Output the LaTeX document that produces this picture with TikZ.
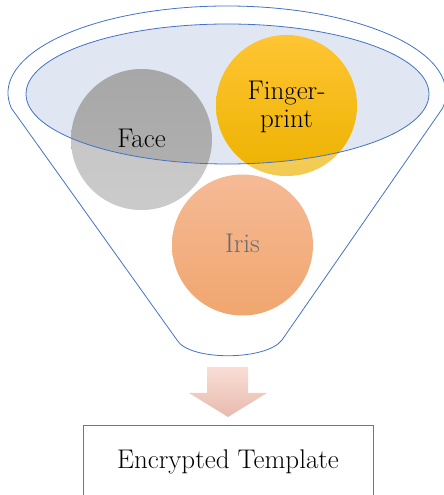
\documentclass[tikz,border=0pt]{standalone}
\usepackage{tikz}
\usetikzlibrary{positioning}

\definecolor{lineblue}{HTML}{4472C4}
\definecolor{boxblue}{HTML}{4F78D0}
\definecolor{mouthfill}{HTML}{E0E6F2}

\begin{document}
\begin{tikzpicture}[x=1pt,y=1pt,
    funnel/.style={draw=lineblue,line width=0.8pt},
    disc/.style={circle,minimum size=141pt,inner sep=0pt},
    lbl/.style={align=center,font=\fontsize{27}{28}\selectfont},
    outbox/.style={draw=boxblue,line width=1pt,minimum width=290pt,
        minimum height=72pt,font=\fontsize{27}{28}\selectfont}
    ]

\useasboundingbox (0,0) rectangle (444,495);
\clip (0,0) rectangle (444,495);

% Funnel body
\draw[funnel] (227,402) ++(190:219 and 87)
    arc[start angle=190,end angle=-10,x radius=219,y radius=87]
    -- (282,155) .. controls (266,134) and (189,134) .. (177,155) -- cycle;

% Mouth of the funnel
\fill[mouthfill] (227.5,401) ellipse (201.5 and 70);

% Circles
\node[disc,top color=gray!69,bottom color=gray!60] (face) at (141.5,355.5) {};
\node[disc,top color={rgb,255:red,255;green,197;blue,51},
    bottom color={rgb,255:red,236;green,178;blue,0}] (finger) at (286.5,389.5) {};
\node[disc,top color={rgb,255:red,245;green,186;blue,150},
    bottom color={rgb,255:red,240;green,166;blue,110}] (iris) at (242.5,250) {};

% Fade the parts outside the mouth
\begin{scope}[even odd rule]
\clip (0,0) rectangle (444,495) (227.5,401) ellipse (201.5 and 70);
\fill[white,opacity=0.32] (face.center) circle (70.5);
\fill[white,opacity=0.32] (finger.center) circle (70.5);
\end{scope}

\draw[funnel] (227.5,401) ellipse (201.5 and 70);

% Labels
\node[lbl] at ([yshift=1pt]face.center) {Face};
\node[lbl] at ([yshift=-1pt]finger.center) {Finger-\\print};
\node[lbl,text=black!58] at ([yshift=2pt]iris.center) {Iris};

% Down arrow
\shade[top color={rgb,255:red,249;green,222;blue,214},
    bottom color={rgb,255:red,232;green,186;blue,174}]
    (207,128) -- (248,128) -- (248,102) -- (267,102) -- (228,78)
    -- (189,102) -- (207,102) -- cycle;

% Output
\node[outbox,anchor=north] (tmpl) at (228,70) {Encrypted Template};

\end{tikzpicture}
\end{document}
